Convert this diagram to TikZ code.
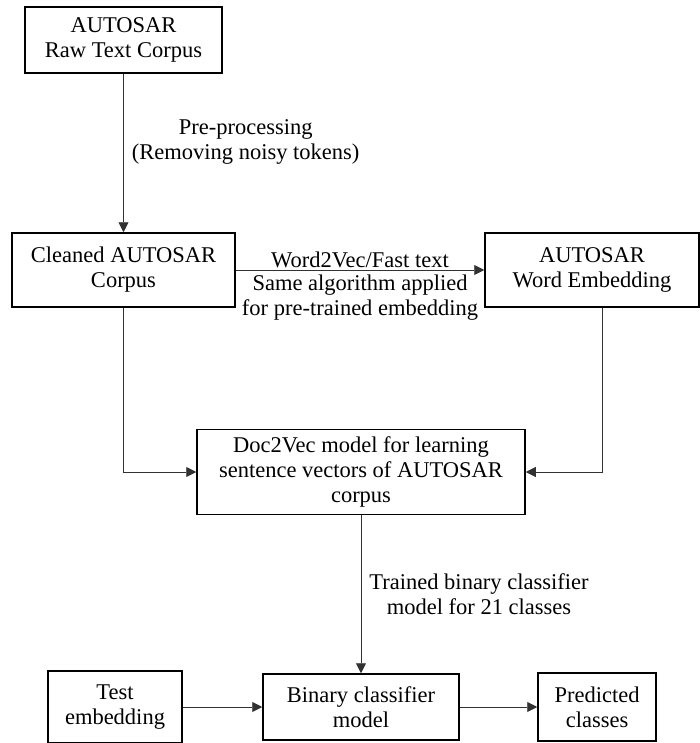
\documentclass[tikz,border=0pt]{standalone}
\usepackage{fontspec}
\setmainfont{Liberation Serif}
\usepackage{tikz}
\usetikzlibrary{arrows.meta,positioning}
\definecolor{wire}{RGB}{50,50,50}

\begin{document}
\begin{tikzpicture}[x=1pt,y=-1pt,
  font=\fontsize{22.5}{25}\selectfont,
  box/.style={draw=black, line width=1.5pt, align=center, inner sep=0pt},
  lbl/.style={align=center, inner sep=0pt},
  arr/.style={draw=wire, line width=0.9pt, -{Triangle[length=10pt,width=10pt]}}]
\useasboundingbox (0,0) rectangle (700,743);
% boxes
\node[box, minimum width=197pt, minimum height=66pt] (raw) at (123.5,40) {AUTOSAR\\Raw Text Corpus};
\node[box, minimum width=223pt, minimum height=74pt] (clean) at (123.5,270) {Cleaned AUTOSAR\\Corpus};
\node[box, minimum width=214pt, minimum height=74pt] (wemb) at (592,270) {AUTOSAR\\Word Embedding};
\node[box, minimum width=328pt, minimum height=85pt] (doc) at (361,472) {Doc2Vec model for learning\\sentence vectors of AUTOSAR\\corpus};
\node[box, minimum width=134pt, minimum height=72pt] (test) at (115,707) {Test\\embedding};
\node[box, minimum width=196pt, minimum height=66pt] (binary) at (361,707) {Binary classifier\\model};
\node[box, minimum width=118pt, minimum height=68pt] (pred) at (597,707) {Predicted\\classes};
% connectors
\draw[arr] (raw) -- node[lbl, right=8pt, pos=0.43] {Pre-processing\\(Removing noisy tokens)} (clean);
\draw[arr] (clean) -- node[lbl, above=2pt] {Word2Vec/Fast text}
  node[lbl, below=4pt] {Same algorithm applied\\for pre-trained embedding} (wemb);
\draw[arr] (clean.south) |- (doc.west);
\draw[arr] ([xshift=10pt]wemb.south) |- (doc.east);
\draw[arr] (doc) -- node[lbl, right=8pt] {Trained binary classifier\\model for 21 classes} (binary);
\draw[arr] (test) -- (binary);
\draw[arr] (binary) -- (pred);
\end{tikzpicture}
\end{document}
